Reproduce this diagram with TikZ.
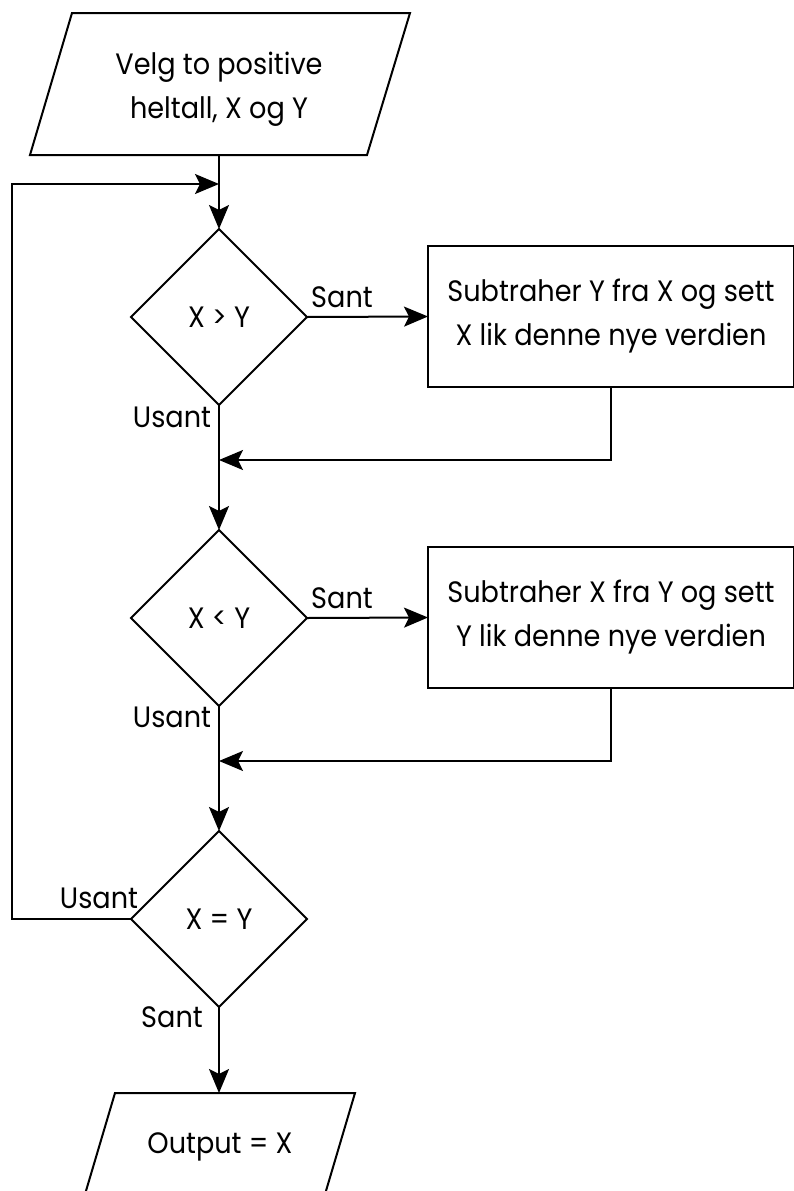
\documentclass[tikz,border=0pt]{standalone}
\usepackage{fontspec}
\setmainfont[FakeStretch=0.92]{Poppins}
\usetikzlibrary{shapes.geometric,arrows.meta}
\begin{document}
\begin{tikzpicture}[x=1pt,y=-1pt,
  every node/.style={font=\fontsize{29.5}{44}\selectfont},
  line/.style={line width=2pt},
  arr/.style={line width=2pt,-{Stealth[length=24pt,width=20pt,inset=5pt]}},
  iobox/.style={draw,line width=2pt,line join=miter},
  decision/.style={draw,line width=2pt,diamond,minimum width=176pt,
    minimum height=176pt,inner sep=0pt,outer sep=0pt,align=center},
  process/.style={draw,line width=2pt,rectangle,minimum width=366pt,
    minimum height=141pt,inner sep=0pt,outer sep=0pt,align=center},
  lbl/.style={inner sep=0pt,align=center}
]
\useasboundingbox (0,0) rectangle (793,1191);
\fill[white] (0,0) rectangle (793,1191);

% input parallelogram
\draw[iobox] (72,13) -- (410,13) -- (367,155) -- (30,155) -- cycle;
\node[lbl] (in) at (219,89) {Velg to positive\\heltall, X og Y};
\coordinate (inb) at (219,155);

\node[decision] (d1) at (219,317) {X > Y};
\node[process] (r1) at (611,316.5) {Subtraher Y fra X og sett\\X lik denne nye verdien};

\node[decision] (d2) at (219,618) {X < Y};
\node[process] (r2) at (611,617.5) {Subtraher X fra Y og sett\\Y lik denne nye verdien};

\node[decision] (d3) at (219,919) {X = Y};

% output parallelogram
\draw[iobox] (115,1093) -- (355,1093) -- (323,1201) -- (83,1201) -- cycle;
\node[lbl] (out) at (220,1147) {Output = X};
\coordinate (outt) at (219,1093);

\coordinate (j0) at (219,184);
\coordinate (j1) at (219,460);
\coordinate (j2) at (219,761);
\coordinate (lp) at (12,919);

\draw[line] (inb) -- (j0);
\draw[arr] (j0) -- (d1.north);
\draw[arr] (d1.east) -- (r1.west);
\draw[line] (d1.south) -- (j1);
\draw[arr] (r1.south) |- (j1);
\draw[arr] (j1) -- (d2.north);
\draw[arr] (d2.east) -- (r2.west);
\draw[line] (d2.south) -- (j2);
\draw[arr] (r2.south) |- (j2);
\draw[arr] (j2) -- (d3.north);
\draw[arr] (d3.south) -- (outt);
\draw[arr] (d3.west) -- (lp) |- (j0);

\node[lbl] (s1) at (342,297) {Sant};
\node[lbl] (u1) at (172,417) {Usant};
\node[lbl] (s2) at (342,598) {Sant};
\node[lbl] (u2) at (172,717) {Usant};
\node[lbl] (u3) at (99,898) {Usant};
\node[lbl] (s3) at (172,1017) {Sant};
\end{tikzpicture}
\end{document}
